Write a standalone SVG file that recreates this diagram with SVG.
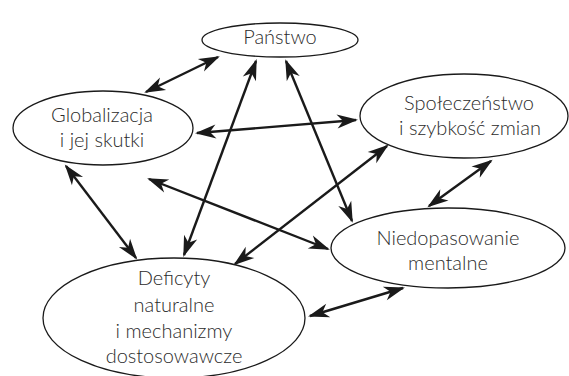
<svg xmlns="http://www.w3.org/2000/svg" width="569" height="376" viewBox="0 0 569 376">
  <style>
    .node ellipse { fill: #ffffff; stroke: #1a1a1a; stroke-width: 1.3; }
    .node text { font-family: "Lato", "Liberation Sans", sans-serif; font-size: 20px; font-weight: 300; fill: #2b2b2b; text-anchor: middle; }
    .edge { stroke: #1a1a1a; stroke-width: 2.4; fill: none; marker-start: url(#ah); marker-end: url(#ah); }
  </style>
  <defs>
    <marker id="ah" markerUnits="userSpaceOnUse" markerWidth="30" markerHeight="20" refX="0" refY="0" viewBox="-20 -10 30 20" orient="auto-start-reverse" overflow="visible">
      <path d="M2,0 L-19,-7 L-13,0 L-19,7 Z" fill="#1a1a1a"/>
    </marker>
  </defs>
  <rect width="569" height="376" fill="#ffffff"/>
  <g id="edges">
    <line class="edge" x1="146" y1="92" x2="218" y2="57"/>
    <line class="edge" x1="256" y1="61" x2="184" y2="255"/>
    <line class="edge" x1="286" y1="61" x2="352" y2="221"/>
    <line class="edge" x1="197" y1="133" x2="356" y2="120"/>
    <line class="edge" x1="66" y1="166" x2="136" y2="258"/>
    <line class="edge" x1="149" y1="179" x2="328" y2="249"/>
    <line class="edge" x1="387" y1="146" x2="235" y2="264"/>
    <line class="edge" x1="491" y1="161" x2="429" y2="206"/>
    <line class="edge" x1="403" y1="288" x2="310" y2="316"/>
  </g>
  <g id="panstwo" class="node">
    <ellipse cx="280" cy="40" rx="78" ry="17"/>
    <text x="280" y="44">Państwo</text>
  </g>
  <g id="globalizacja" class="node">
    <ellipse cx="103" cy="128" rx="90" ry="37"/>
    <text x="102" y="122">Globalizacja</text>
    <text x="102" y="147">i jej skutki</text>
  </g>
  <g id="spoleczenstwo" class="node">
    <ellipse cx="464" cy="116" rx="104" ry="42"/>
    <text x="469" y="110">Społeczeństwo</text>
    <text x="470" y="135">i szybkość zmian</text>
  </g>
  <g id="niedopasowanie" class="node">
    <ellipse cx="448" cy="248" rx="117" ry="40"/>
    <text x="448" y="245">Niedopasowanie</text>
    <text x="448" y="270">mentalne</text>
  </g>
  <g id="deficyty" class="node">
    <ellipse cx="174" cy="318" rx="131" ry="60"/>
    <text x="174" y="285">Deficyty</text>
    <text x="174" y="312">naturalne</text>
    <text x="174" y="338">i mechanizmy</text>
    <text x="174" y="363">dostosowawcze</text>
  </g>
</svg>
